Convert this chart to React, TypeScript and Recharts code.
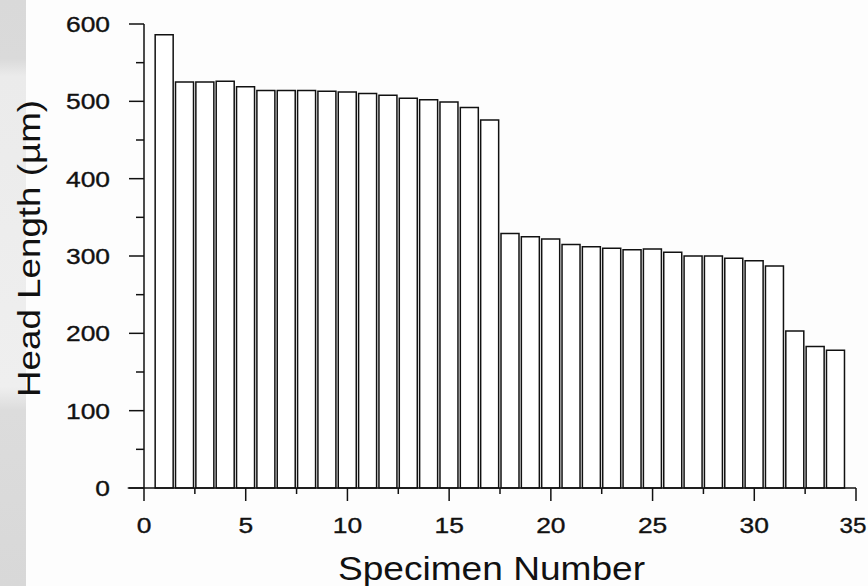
import React from 'react';
import { BarChart, Bar, XAxis, YAxis, ReferenceLine } from 'recharts';

const specimenNumbers = [
  1, 2, 3, 4, 5, 6, 7, 8, 9, 10, 11, 12, 13, 14, 15, 16, 17,
  18, 19, 20, 21, 22, 23, 24, 25, 26, 27, 28, 29, 30, 31, 32, 33, 34,
];
const headLengths = [
  586, 525, 525, 526, 519, 514, 514, 514, 513, 512, 510, 508, 504, 502, 499, 492, 476,
  329, 325, 322, 315, 312, 310, 308, 309, 305, 300, 300, 297, 294, 287, 203, 183, 178,
];
const xTicks = [0, 2.5, 5, 7.5, 10, 12.5, 15, 17.5, 20, 22.5, 25, 27.5, 30, 32.5, 35];
const xMajorTicks = [0, 5, 10, 15, 20, 25, 30, 35];
const yTicks = [0, 50, 100, 150, 200, 250, 300, 350, 400, 450, 500, 550, 600];
const yMajorTicks = [0, 100, 200, 300, 400, 500, 600];
const xTitle = 'Specimen Number';
const yTitle = 'Head Length (µm)';

const data = specimenNumbers.map((n, i) => ({ specimen: n, length: headLengths[i] }));

const FONT = '"Liberation Sans", Arial, Helvetica, sans-serif';
const INK = '#111';

const YTick = (props: any) => {
  const { x, y, payload } = props;
  const major = yMajorTicks.includes(payload.value);
  const len = major ? 15 : 8;
  return (
    <g>
      <line x1={x - len} x2={x} y1={y} y2={y} stroke={INK} strokeWidth={1.5} />
      {major && (
        <text
          transform={`translate(${x - 34},${y + 8}) scale(1.2,1)`}
          textAnchor="end"
          fontSize={22}
          fontFamily={FONT}
          fill={INK}
          stroke={INK}
          strokeWidth={0.35}
        >
          {payload.value}
        </text>
      )}
    </g>
  );
};

const XTick = (props: any) => {
  const { x, y, payload, index, visibleTicksCount } = props;
  const major = xMajorTicks.includes(payload.value);
  const len = major ? 13 : 6;
  const isLast = index === (visibleTicksCount ?? xTicks.length) - 1;
  return (
    <g>
      <line x1={x} x2={x} y1={y} y2={y + len} stroke={INK} strokeWidth={1.5} />
      {major && (
        <text
          transform={`translate(${isLast ? x - 3 : x},${y + 45}) scale(${isLast ? 1.1 : 1.2},1)`}
          textAnchor="middle"
          fontSize={22}
          fontFamily={FONT}
          fill={INK}
          stroke={INK}
          strokeWidth={0.35}
        >
          {payload.value}
        </text>
      )}
    </g>
  );
};

const XTitle = (props: any) => {
  const vb = props.viewBox || {};
  const cx = vb.x + vb.width / 2 - 8.5;
  return (
    <text
      x={cx}
      y={vb.y + 91.5}
      textAnchor="middle"
      fontSize={34}
      fontFamily={FONT}
      fill={INK}
      textLength={307}
      lengthAdjust="spacingAndGlyphs"
    >
      {xTitle}
    </text>
  );
};

const YTitle = (props: any) => {
  const vb = props.viewBox || {};
  const cx = vb.x + 39.5;
  const cy = vb.y + vb.height / 2 - 7.5;
  return (
    <text
      transform={`translate(${cx},${cy}) rotate(-90)`}
      textAnchor="middle"
      fontSize={32}
      fontFamily={FONT}
      fill={INK}
      textLength={297}
      lengthAdjust="spacingAndGlyphs"
    >
      {yTitle}
    </text>
  );
};

export default function App() {
  return (
    <div style={{ position: 'absolute', left: 0, top: 0, width: 868, height: 586, background: '#fdfdfd', overflow: 'hidden' }}>
      <div
        style={{
          position: 'absolute',
          left: 0,
          top: 0,
          width: 26,
          height: 586,
          background:
            'linear-gradient(to bottom, #d9d9d9 0%, #dadada 10%, #ebebeb 13%, #efefef 66%, #dcdcdc 70%, #d8d8d8 100%)',
        }}
      />
      <BarChart
        width={868}
        height={586}
        data={data}
        margin={{ top: 24, right: 12, bottom: 0, left: 0 }}
        barSize={18}
      >
        <XAxis
          dataKey="specimen"
          type="number"
          domain={[0, 35]}
          ticks={xTicks}
          interval={0}
          height={98}
          tickSize={0}
          tickMargin={0}
          tickLine={false}
          tick={<XTick />}
          axisLine={{ stroke: INK, strokeWidth: 1.5 }}
          allowDecimals
          label={<XTitle />}
        />
        <YAxis
          type="number"
          domain={[0, 600]}
          ticks={yTicks}
          interval={0}
          width={144}
          tickSize={0}
          tickMargin={0}
          tickLine={false}
          tick={<YTick />}
          axisLine={{ stroke: INK, strokeWidth: 1.5 }}
          label={<YTitle />}
        />
        <ReferenceLine
          segment={[{ x: -0.8, y: 0 }, { x: 0, y: 0 }]}
          stroke={INK}
          strokeWidth={1.5}
          ifOverflow="visible"
        />
        <Bar
          dataKey="length"
          fill="#ffffff"
          stroke={INK}
          strokeWidth={1.5}
          isAnimationActive={false}
        />
      </BarChart>
    </div>
  );
}
